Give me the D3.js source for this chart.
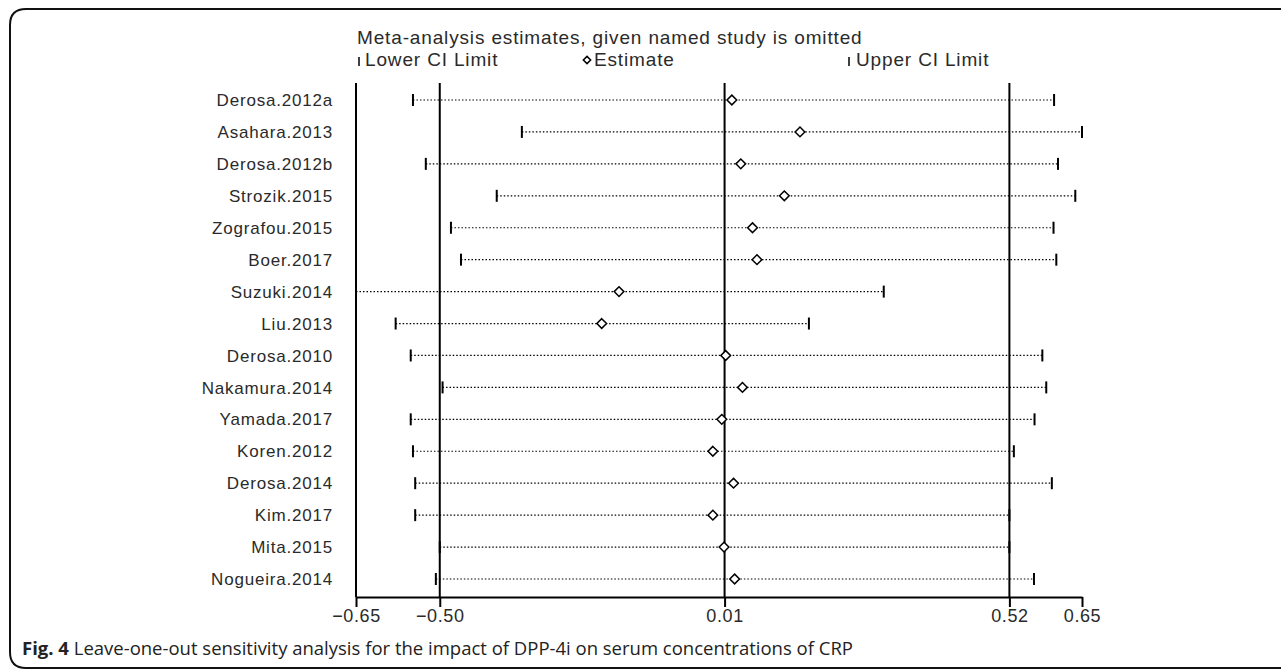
<!DOCTYPE html>
<html>
<head>
<meta charset="utf-8">
<script src="https://cdn.jsdelivr.net/npm/d3@7"></script>
<style>
  body { margin: 0; background: #fff; }
  svg text { font-family: "Liberation Sans", Arial, sans-serif; }
</style>
</head>
<body>
<svg id="loo"></svg>
<script>
// studies omitted, top to bottom
var studies = ['Derosa.2012a','Asahara.2013','Derosa.2012b','Strozik.2015','Zografou.2015',
  'Boer.2017','Suzuki.2014','Liu.2013','Derosa.2010','Nakamura.2014','Yamada.2017',
  'Koren.2012','Derosa.2014','Kim.2017','Mita.2015','Nogueira.2014'];
var estimate = [0.023,0.145,0.039,0.117,0.060,0.068,-0.179,-0.210,0.012,0.042,0.005,
  -0.011,0.026,-0.011,0.009,0.028];
var lowerCI = [-0.548,-0.353,-0.525,-0.398,-0.480,-0.462,-0.70,-0.579,-0.552,-0.495,-0.552,
  -0.548,-0.544,-0.544,-0.500,-0.507];
var upperCI = [0.600,0.651,0.607,0.638,0.599,0.604,0.295,0.161,0.579,0.586,0.565,
  0.528,0.596,0.520,0.520,0.564];
var tickVals = [-0.65,-0.50,0.01,0.52,0.65];
var refLines = [-0.50,0.01,0.52];

var W = 1281, H = 670;
var svg = d3.select('#loo').attr('width', W).attr('height', H);

// frame with rounded left corners
svg.append('path')
  .attr('d', 'M' + W + ',9 L26,9 Q10,9 10,25 L10,652 Q10,668 26,668 L' + W + ',668')
  .attr('fill', 'none').attr('stroke', '#111').attr('stroke-width', 2);

var x = d3.scaleLinear().domain([-0.65, 0.65]).range([356, 1082]);
var y = d3.scalePoint().domain(studies).range([100, 579]);
var yTop = 83, yBase = 597;

// axis
var xAxis = d3.axisBottom(x).tickValues(tickVals).tickSize(10).tickSizeOuter(0)
  .tickFormat(d3.format('.2f'));
var gX = svg.append('g').attr('transform', 'translate(0,' + yBase + ')').call(xAxis);
gX.select('.domain').attr('stroke', '#000').attr('stroke-width', 2);
gX.selectAll('.tick line').attr('stroke', '#000').attr('stroke-width', 2);
gX.selectAll('.tick text').attr('font-size', 18).attr('fill', '#2a2a2a')
  .attr('y', 25).attr('dy', 0).style('letter-spacing', '0.6px')
  .style('font-family', '"Liberation Sans", Arial, sans-serif');

// left frame line of plot
svg.append('line')
  .attr('x1', x(-0.65)).attr('x2', x(-0.65)).attr('y1', yTop).attr('y2', yBase)
  .attr('stroke', '#000').attr('stroke-width', 2);

// reference lines
svg.append('g').selectAll('line').data(refLines).enter().append('line')
  .attr('x1', d => x(d)).attr('x2', d => x(d)).attr('y1', yTop).attr('y2', yBase)
  .attr('stroke', '#000').attr('stroke-width', 2);

var rows = studies.map((s, i) => ({ name: s, est: estimate[i], lo: lowerCI[i], hi: upperCI[i] }));
var clamp = v => Math.max(-0.65, Math.min(0.65, v));

var g = svg.append('g');
// dotted CI lines
g.selectAll('line.ci').data(rows).enter().append('line')
  .attr('class', 'ci')
  .attr('x1', d => x(clamp(d.lo))).attr('x2', d => x(clamp(d.hi)))
  .attr('y1', d => y(d.name)).attr('y2', d => y(d.name))
  .attr('stroke', '#000').attr('stroke-width', 1.2).attr('stroke-dasharray', '1.5,2');

// caps (only when inside the plotted range)
g.selectAll('line.lo').data(rows.filter(d => d.lo >= -0.655)).enter().append('line')
  .attr('x1', d => x(clamp(d.lo))).attr('x2', d => x(clamp(d.lo)))
  .attr('y1', d => y(d.name) - 6).attr('y2', d => y(d.name) + 6)
  .attr('stroke', '#000').attr('stroke-width', 2);
g.selectAll('line.hi').data(rows.filter(d => d.hi <= 0.655)).enter().append('line')
  .attr('x1', d => x(clamp(d.hi))).attr('x2', d => x(clamp(d.hi)))
  .attr('y1', d => y(d.name) - 6).attr('y2', d => y(d.name) + 6)
  .attr('stroke', '#000').attr('stroke-width', 2);

// estimate diamonds
var diamond = d3.symbol().type(d3.symbolDiamond2).size(60);
g.selectAll('path.est').data(rows).enter().append('path')
  .attr('transform', d => 'translate(' + x(d.est) + ',' + y(d.name) + ')')
  .attr('d', diamond)
  .attr('fill', '#fff').attr('stroke', '#000').attr('stroke-width', 1.5);

// study labels
svg.append('g').selectAll('text').data(studies).enter().append('text')
  .attr('x', 333).attr('y', d => y(d)).attr('dy', '0.36em')
  .attr('text-anchor', 'end').attr('font-size', 17).attr('fill', '#2a2a2a')
  .style('letter-spacing', '0.8px')
  .text(d => d);

// legend
var txt = (sel, xx, yy, s) => sel.append('text').attr('x', xx).attr('y', yy)
  .attr('font-size', 19).attr('fill', '#2a2a2a').style('letter-spacing', '0.85px').text(s);
txt(svg, 357, 44, 'Meta-analysis estimates, given named study is omitted');
var leg = svg.append('g');
leg.append('line').attr('x1', 359).attr('x2', 359).attr('y1', 57).attr('y2', 66)
  .attr('stroke', '#000').attr('stroke-width', 1.5);
txt(leg, 365, 66, 'Lower CI Limit');
leg.append('path').attr('transform', 'translate(587,60)')
  .attr('d', d3.symbol().type(d3.symbolDiamond2).size(34))
  .attr('fill', '#fff').attr('stroke', '#000').attr('stroke-width', 1.5);
txt(leg, 594, 66, 'Estimate');
leg.append('line').attr('x1', 849).attr('x2', 849).attr('y1', 57).attr('y2', 66)
  .attr('stroke', '#000').attr('stroke-width', 1.5);
txt(leg, 856, 66, 'Upper CI Limit');

// caption
var cap = svg.append('text').attr('x', 22).attr('y', 655).attr('font-size', 18.5)
  .attr('fill', '#222').style('font-family', '"Open Sans", "Noto Sans", sans-serif');
cap.append('tspan').attr('font-weight', 'bold').text('Fig. 4');
cap.append('tspan').text(' Leave-one-out sensitivity analysis for the impact of DPP-4i on serum concentrations of CRP');
</script>
</body>
</html>
